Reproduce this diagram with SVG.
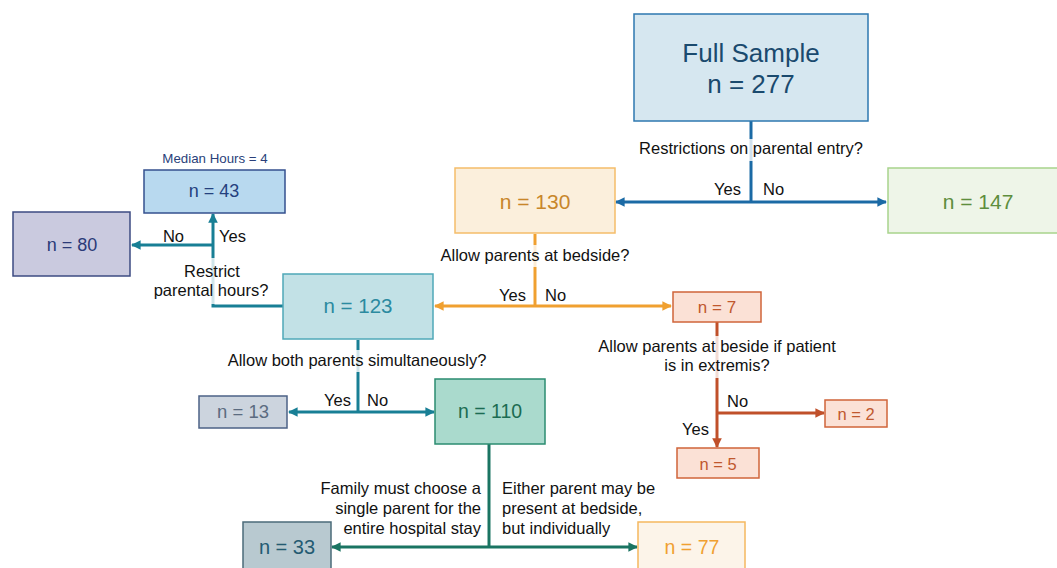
<svg xmlns="http://www.w3.org/2000/svg" width="1057" height="568" viewBox="0 0 1057 568">
<style>
text{font-family:"Liberation Sans",Arial,sans-serif}
.lbl{font-size:16.5px;fill:#111}
.num{text-anchor:middle}
.ln{fill:none;stroke-width:3}
.bg{fill:#fff;fill-opacity:0.8}
</style>
<defs>
<marker id="aBlue" viewBox="0 0 10 10" refX="9" refY="5" markerWidth="3.2" markerHeight="3.2" orient="auto-start-reverse" markerUnits="strokeWidth"><path d="M0,0 L10,5 L0,10 z" fill="#1b6aa5"/></marker>
<marker id="aOrange" viewBox="0 0 10 10" refX="9" refY="5" markerWidth="3.2" markerHeight="3.2" orient="auto-start-reverse" markerUnits="strokeWidth"><path d="M0,0 L10,5 L0,10 z" fill="#f0a030"/></marker>
<marker id="aTeal" viewBox="0 0 10 10" refX="9" refY="5" markerWidth="3.2" markerHeight="3.2" orient="auto-start-reverse" markerUnits="strokeWidth"><path d="M0,0 L10,5 L0,10 z" fill="#187f95"/></marker>
<marker id="aRed" viewBox="0 0 10 10" refX="9" refY="5" markerWidth="3.2" markerHeight="3.2" orient="auto-start-reverse" markerUnits="strokeWidth"><path d="M0,0 L10,5 L0,10 z" fill="#c0502a"/></marker>
<marker id="aGreen" viewBox="0 0 10 10" refX="9" refY="5" markerWidth="3.2" markerHeight="3.2" orient="auto-start-reverse" markerUnits="strokeWidth"><path d="M0,0 L10,5 L0,10 z" fill="#1a7462"/></marker>
</defs>
<rect width="1057" height="568" fill="#fff"/>

<g id="connectors">
<!-- blue -->
<path class="ln" d="M751,121 V202" stroke="#1b6aa5"/>
<path class="ln" d="M616,202 H886" stroke="#1b6aa5" marker-start="url(#aBlue)" marker-end="url(#aBlue)"/>
<!-- orange -->
<path class="ln" d="M535,234 V306" stroke="#f0a030"/>
<path class="ln" d="M435,306 H671" stroke="#f0a030" marker-start="url(#aOrange)" marker-end="url(#aOrange)"/>
<!-- teal from 123 -->
<path class="ln" d="M283,306 H213 V214" stroke="#187f95" marker-end="url(#aTeal)"/>
<path class="ln" d="M213,245 H132" stroke="#187f95" marker-end="url(#aTeal)"/>
<path class="ln" d="M358,340 V412" stroke="#187f95"/>
<path class="ln" d="M289,412 H434" stroke="#187f95" marker-start="url(#aTeal)" marker-end="url(#aTeal)"/>
<!-- red -->
<path class="ln" d="M717,322 V447" stroke="#c0502a" marker-end="url(#aRed)"/>
<path class="ln" d="M717,413 H824" stroke="#c0502a" marker-end="url(#aRed)"/>
<!-- green -->
<path class="ln" d="M489,444 V547" stroke="#1a7462"/>
<path class="ln" d="M332,547 H637" stroke="#1a7462" marker-start="url(#aGreen)" marker-end="url(#aGreen)"/>

<!-- label backgrounds and labels -->
<rect class="bg" x="638" y="139" width="228" height="22"/>
<text class="lbl" x="751" y="154" text-anchor="middle">Restrictions on parental entry?</text>
<text class="lbl" x="741" y="195" text-anchor="end">Yes</text>
<text class="lbl" x="763" y="195">No</text>

<rect class="bg" x="438" y="245" width="194" height="22"/>
<text class="lbl" x="535" y="261" text-anchor="middle">Allow parents at bedside?</text>
<text class="lbl" x="526" y="301" text-anchor="end">Yes</text>
<text class="lbl" x="545" y="301">No</text>

<rect class="bg" x="150" y="258" width="124" height="46"/>
<text class="lbl" x="212" y="277" text-anchor="middle">Restrict</text>
<text class="lbl" x="211" y="296" text-anchor="middle">parental hours?</text>
<text class="lbl" x="184" y="242" text-anchor="end">No</text>
<text class="lbl" x="219" y="242">Yes</text>

<rect class="bg" x="225" y="350" width="265" height="22"/>
<text class="lbl" x="357" y="366" text-anchor="middle">Allow both parents simultaneously?</text>
<text class="lbl" x="351" y="406" text-anchor="end">Yes</text>
<text class="lbl" x="367" y="406">No</text>

<rect class="bg" x="595" y="336" width="246" height="42"/>
<text class="lbl" x="717" y="352" text-anchor="middle">Allow parents at beside if patient</text>
<text class="lbl" x="717" y="371" text-anchor="middle">is in extremis?</text>
<text class="lbl" x="727" y="407">No</text>
<text class="lbl" x="709" y="435" text-anchor="end">Yes</text>

<text class="lbl" x="481" y="494" text-anchor="end">Family must choose a</text>
<text class="lbl" x="481" y="514" text-anchor="end">single parent for the</text>
<text class="lbl" x="481" y="534" text-anchor="end">entire hospital stay</text>
<text class="lbl" x="502" y="494">Either parent may be</text>
<text class="lbl" x="502" y="514">present at bedside,</text>
<text class="lbl" x="502" y="534">but individually</text>
</g>

<g id="full">
<rect x="634" y="14" width="234" height="107" fill="#d6e7f0" stroke="#2e78b0" stroke-width="1.5"/>
<text class="num" x="751" y="62" font-size="26" fill="#1a4a6e">Full Sample</text>
<text class="num" x="751" y="93" font-size="26" fill="#1a4a6e">n = 277</text>
</g>
<g id="n130">
<rect x="455" y="168" width="160" height="65" fill="#fbefdc" stroke="#f5bd6a" stroke-width="1.5"/>
<text class="num" x="535" y="209" font-size="21" fill="#c8862a">n = 130</text>
</g>
<g id="n147">
<rect x="888" y="168" width="172" height="65" fill="#eef5e8" stroke="#a8d38c" stroke-width="1.5"/>
<text class="num" x="978" y="209" font-size="21" fill="#5e8e3e">n = 147</text>
</g>
<g id="n123">
<rect x="283" y="274" width="150" height="65" fill="#c2e1e6" stroke="#4fa8b8" stroke-width="1.5"/>
<text class="num" x="358" y="313" font-size="20.5" fill="#2b8aa0">n = 123</text>
</g>
<g id="n7">
<rect x="673" y="292" width="88" height="30" fill="#fbe1d6" stroke="#d0643a" stroke-width="1.5"/>
<text class="num" x="717" y="313" font-size="17" fill="#c0582e">n = 7</text>
</g>
<g id="n43">
<text class="num" x="215" y="163" font-size="13.3" fill="#2a3f7a">Median Hours = 4</text>
<rect x="144" y="170" width="141" height="43" fill="#b8d9ef" stroke="#34508f" stroke-width="1.5"/>
<text class="num" x="214" y="197" font-size="18" fill="#25417e">n = 43</text>
</g>
<g id="n80">
<rect x="13" y="212" width="117" height="64" fill="#cacadf" stroke="#3c4b82" stroke-width="1.5"/>
<text class="num" x="72" y="251" font-size="18" fill="#2b3a78">n = 80</text>
</g>
<g id="n13">
<rect x="199" y="396" width="88" height="32" fill="#ccd4de" stroke="#4c6286" stroke-width="1.5"/>
<text class="num" x="243" y="418" font-size="18.5" fill="#5b6b80">n = 13</text>
</g>
<g id="n110">
<rect x="435" y="379" width="110" height="65" fill="#aadacd" stroke="#2b8c70" stroke-width="1.5"/>
<text class="num" x="490" y="418" font-size="19.5" fill="#1c6c52">n = 110</text>
</g>
<g id="n2">
<rect x="825" y="400" width="62" height="27" fill="#fbe1d6" stroke="#d0643a" stroke-width="1.5"/>
<text class="num" x="856" y="420" font-size="16.5" fill="#c0582e">n = 2</text>
</g>
<g id="n5">
<rect x="677" y="448" width="82" height="30" fill="#fbe1d6" stroke="#d0643a" stroke-width="1.5"/>
<text class="num" x="718" y="470" font-size="16.5" fill="#c0582e">n = 5</text>
</g>
<g id="n33">
<rect x="243" y="522" width="88" height="60" fill="#b8c9d0" stroke="#4b6b79" stroke-width="1.5"/>
<text class="num" x="287" y="554" font-size="20" fill="#245b72">n = 33</text>
</g>
<g id="n77">
<rect x="638" y="522" width="107" height="60" fill="#fcf4e9" stroke="#f5b85f" stroke-width="1.5"/>
<text class="num" x="692" y="554" font-size="19.5" fill="#f0a030">n = 77</text>
</g>
</svg>
